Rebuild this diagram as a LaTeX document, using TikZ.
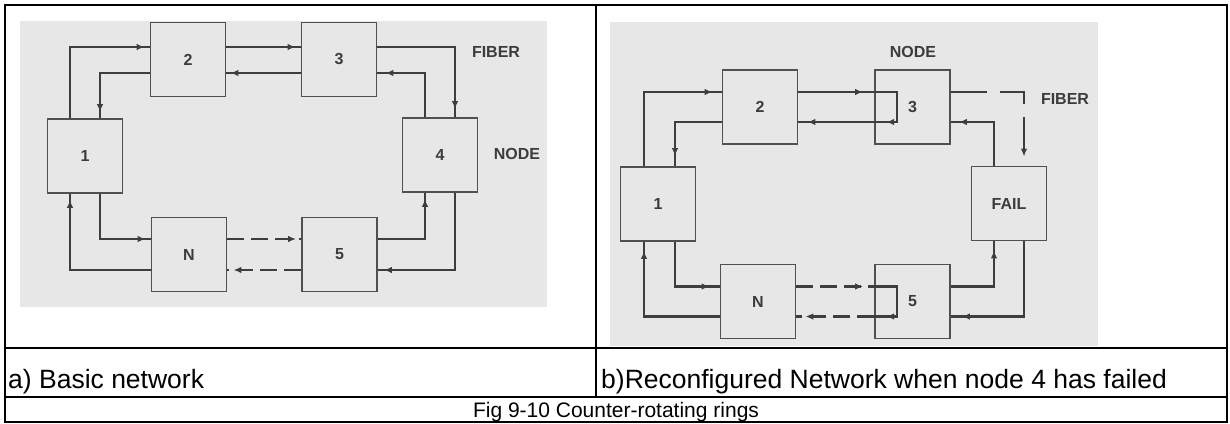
\documentclass[tikz,border=0pt]{standalone}
\usepackage{fontspec}
\setmainfont{Liberation Sans}
\usetikzlibrary{arrows.meta,decorations.markings}

\definecolor{scan}{RGB}{231,231,231}
\definecolor{ink}{RGB}{62,62,62}
\definecolor{rim}{RGB}{80,80,80}
\definecolor{labelgray}{RGB}{60,60,60}

\tikzset{
  unit/.style={draw=rim, line width=1.8pt, fill=scan, minimum width=75pt,
    minimum height=74pt, inner sep=0pt,
    font=\bfseries\fontsize{16}{16}\selectfont, text=labelgray},
  conn/.style={draw=ink, line width=2.1pt},
  tipat/.style={postaction={decorate}, decoration={markings,
    mark=at position #1 with {\arrow{Latex[length=8pt,width=6.5pt]}}}},
  broken/.style={dash pattern=on 17pt off 7pt},
  longbreak/.style={dash pattern=on 36pt off 13pt},
  tag/.style={font=\bfseries\fontsize{16}{16}\selectfont, text=labelgray, inner sep=0pt},
  rule/.style={draw=black, line width=2pt},
  caption/.style={font=\fontsize{26.5}{30}\selectfont, inner sep=0pt},
  figline/.style={font=\fontsize{21}{24}\selectfont, inner sep=0pt},
}

\begin{document}
\begin{tikzpicture}[x=1pt,y=-1pt]
\useasboundingbox (0,0) rectangle (1230,423);

% ---------- scanned panels ----------
\fill[scan] (20,21) rectangle (547,307);
\fill[scan] (610,22) rectangle (1098,346);

% ---------- (a) basic network ----------
\node[unit] (L1) at (85,156) {1};
\node[unit] (L2) at (188,59.5) {2};
\node[unit] (L3) at (339,59.5) {3};
\node[unit] (L4) at (440,155) {4};
\node[unit] (LN) at (189,254.5) {N};
\node[unit] (L5) at (339.5,254.5) {5};

% clockwise ring
\draw[conn,tipat=-5pt] ([xshift=-15pt]L1.north) |- ([yshift=12.5pt]L2.west);
\draw[conn,tipat=-5pt] ([yshift=12.5pt]L2.east) -- ([yshift=12.5pt]L3.west);
\draw[conn,tipat=-8pt] ([yshift=12.5pt]L3.east) -| ([xshift=15pt]L4.north);
\draw[conn,tipat=-6pt] ([xshift=15pt]L4.south) |- ([yshift=-15.5pt]L5.east);
\draw[conn,broken,tipat=-6pt] ([yshift=-15.5pt]L5.west) -- ([yshift=-15.5pt]LN.east);
\draw[conn,tipat=-6pt] ([yshift=-15.5pt]LN.west) -| ([xshift=-15pt]L1.south);
% counter-clockwise ring
\draw[conn,tipat=-6pt] ([yshift=-13.5pt]L2.west) -| ([xshift=15pt]L1.north);
\draw[conn,tipat=-5pt] ([xshift=15pt]L1.south) |- ([yshift=15.5pt]LN.west);
\draw[conn,broken,tipat=-5pt] ([yshift=15.5pt]LN.east) -- ([yshift=15.5pt]L5.west);
\draw[conn,tipat=-6pt] ([yshift=15.5pt]L5.east) -| ([xshift=-15pt]L4.south);
\draw[conn,tipat=-8pt] ([xshift=-15pt]L4.north) |- ([yshift=-13.5pt]L3.east);
\draw[conn,tipat=-4pt] ([yshift=-13.5pt]L3.west) -- ([yshift=-13.5pt]L2.east);

\node[tag] (fibA) at (496,52) {FIBER};
\node[tag] (nodeA) at (517,154) {NODE};

% ---------- (b) reconfigured network ----------
\node[unit] (R1) at (658,204) {1};
\node[unit] (R2) at (760,107) {2};
\node[unit] (R3) at (912.5,107) {3};
\node[unit] (RF) at (1009,203.5) {FAIL};
\node[unit] (RN) at (758,301.5) {N};
\node[unit] (R5) at (912.5,301.5) {5};

% ring 1 -> 2 -> 3 (loop back) -> 2 -> 1
\draw[conn,tipat=-9pt] ([xshift=-14pt]R1.north) |- ([yshift=15pt]R2.west);
\draw[conn,tipat=-11pt] ([yshift=15pt]R2.east) -- ([yshift=15pt]R3.west);
\draw[conn,tipat=-12pt] ([yshift=15pt]R3.west) -- ++(22.5,0) -- ++(0,30) -- ([yshift=-15pt]R3.west);
\draw[conn,tipat=-9pt] ([yshift=-15pt]R3.west) -- ([yshift=-15pt]R2.east);
\draw[conn,tipat=-10pt] ([yshift=-15pt]R2.west) -| ([xshift=17pt]R1.north);
% unused links round the failed node
\draw[conn,longbreak,tipat=-9pt] ([yshift=15pt]R3.east) -| ([xshift=15pt]RF.north);
\draw[conn,tipat=-8pt] ([xshift=-15pt]RF.north) |- ([yshift=-15pt]R3.east);
\draw[conn,tipat=-11pt] ([xshift=15pt]RF.south) |- ([yshift=-15pt]R5.east);
\draw[conn,tipat=-9pt] ([yshift=15pt]R5.east) -| ([xshift=-15pt]RF.south);
% ring 1 -> N -> 5 (loop back) -> N -> 1
\draw[conn,tipat=-10pt] ([xshift=17pt]R1.south) |- ([yshift=15pt]RN.west);
\draw[conn,broken,tipat=-11pt] ([yshift=15pt]RN.east) -- ([yshift=15pt]R5.west);
\draw[conn,tipat=-12pt] ([yshift=15pt]R5.west) -- ++(22.5,0) -- ++(0,30) -- ([yshift=-15pt]R5.west);
\draw[conn,broken,tipat=-9pt] ([yshift=-15pt]R5.west) -- ([yshift=-15pt]RN.east);
\draw[conn,tipat=-9pt] ([yshift=-15pt]RN.west) -| ([xshift=-14pt]R1.south);

\node[tag] (nodeB) at (913,52) {NODE};
\node[tag] (fibB) at (1065,99) {FIBER};

% ---------- table rules ----------
\draw[rule] (5,5) rectangle (1227,422);
\draw[rule] (596,5) -- (596,397);
\draw[rule] (5,347.5) -- (1227,347.5);
\draw[rule] (5,397) -- (1227,397);

% ---------- captions ----------
\node[caption,anchor=base west] (capA) at (8,388) {a) Basic network};
\node[caption,anchor=base west] (capB) at (601,388) {b)Reconfigured Network when node 4 has failed};
\node[figline,anchor=base] (capFig) at (616,417.5) {Fig 9-10 Counter-rotating rings};
\end{tikzpicture}
\end{document}
